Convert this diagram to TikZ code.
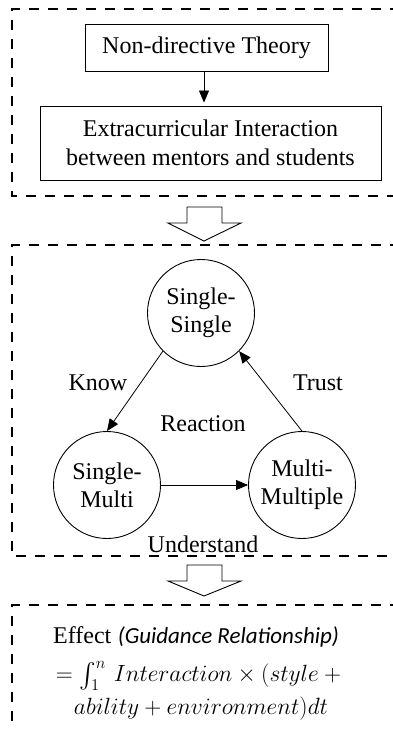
\RequirePackage{fix-cm}
\documentclass[tikz,border=0pt]{standalone}
\usepackage{amsmath}
\usepackage{exscale}
\usepackage{fontspec}
\setmainfont{Liberation Serif}
\newfontfamily\calib{Carlito}
\usetikzlibrary{arrows.meta}
\begin{document}
\begin{tikzpicture}[x=1pt,y=-1pt,
  box/.style={draw,line width=0.9pt,inner sep=0,align=center,font=\fontsize{24}{29}\selectfont},
  circ/.style={draw,circle,line width=0.9pt,minimum size=107pt,inner sep=0,align=center,font=\fontsize{24}{28}\selectfont},
  dashbox/.style={draw,line width=2pt,dash pattern=on 10pt off 9pt},
  arr/.style={-{Triangle[length=12pt,width=10pt]},line width=0.8pt},
  lbl/.style={inner sep=0,font=\fontsize{24}{28}\selectfont},
  eqline/.style={inner sep=0,font=\fontsize{23.5}{28}\selectfont},
  hollow/.style={draw,line width=0.9pt,fill=white,line join=miter}
]
\useasboundingbox (0,0) rectangle (393,729);
\clip (0,0) rectangle (393,729);
% dashed frames
\draw[dashbox] (400,9) -- (12,9) -- (12,196) -- (400,196);
\draw[dashbox] (400,245) -- (12,245) -- (12,556) -- (400,556);
\draw[dashbox] (400,605) -- (12,605) -- (12,740);
% top frame
\node[box, minimum width=243pt, minimum height=47pt] (nd) at (206.5,47.5) {Non-directive Theory};
\node[box, minimum width=341pt, minimum height=74pt] (ex) at (210.5,143) {Extracurricular Interaction\\between mentors and students};
\draw[arr] ([xshift=-2.5pt]nd.south) -- ([xshift=-2.5pt,yshift=3pt]nd.south |- ex.north);
% hollow arrows
\draw[hollow] (187,207) -- (222,207) -- (222,223) -- (241,223) -- (204,241) -- (168,223) -- (187,223) -- cycle;
\draw[hollow] (187,565) -- (222,565) -- (222,581) -- (241,581) -- (204,596) -- (168,581) -- (187,581) -- cycle;
% cycle
\node[circ] (ss) at (201,313) {Single-\\Single};
\node[circ] (sm) at (107,485) {Single-\\Multi};
\node[circ] (mm) at (302,485) {Multi-\\Multiple};
\draw[arr] (ss.225) -- (sm.north);
\draw[arr] (mm.north) -- (ss.-45);
\draw[arr] (sm.east) -- (mm.west);
\node[lbl] (know) at (98,383) {Know};
\node[lbl] (trust) at (318,383) {Trust};
\node[lbl] (react) at (203,424) {Reaction};
\node[lbl] (under) at (203,544) {Understand};
% effect formula
\node[inner sep=0, anchor=base west, font=\fontsize{24}{28}\selectfont] (eff) at (53,643) {Effect};
\node[inner sep=0, anchor=base west, font=\fontsize{23}{27}\selectfont\calib\itshape] (gr) at ([xshift=6pt]eff.base east) {(Guidance Relationship)};
\node[eqline] (eq2) at (201,676) {$=\int_{1}^{n}\, Interaction\times(style+{}$};
\node[eqline] (eq3) at (201,709) {$ability+environment)dt$};
\end{tikzpicture}
\end{document}
